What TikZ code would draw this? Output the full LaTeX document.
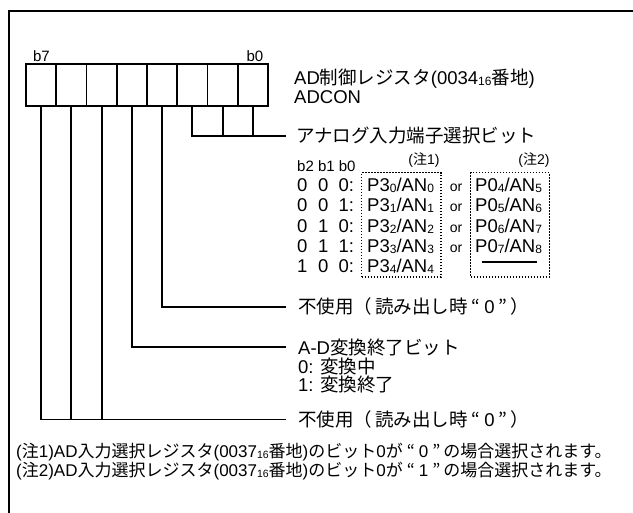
\documentclass[tikz,border=0pt]{standalone}
\usepackage{fontspec}
\setmainfont{Liberation Sans}
\newfontfamily\jpf{Noto Sans CJK JP}
\newcommand\J[1]{{\jpf #1}}
\newcommand\lowsub[2][12]{{\fontsize{#1}{#1}\selectfont\raisebox{-1pt}{#2}}}
\newcommand\qz[1]{\hspace{4pt}\J{“}\hspace{4pt}#1\hspace{4pt}\J{”}\hspace{3pt}}
\tikzset{
  ln/.style={line width=1.8pt},
  frame/.style={line width=1.8pt},
  cell/.style={draw, line width=1.8pt, minimum width=30.25pt, minimum height=42pt, inner sep=0pt, outer sep=0pt},
  txt/.style={anchor=base west, inner sep=0pt, font=\fontsize{18.5}{20}\selectfont},
  sml/.style={anchor=base, inner sep=0pt, font=\fontsize{14}{16}\selectfont},
  bits/.style={anchor=base, inner sep=0pt, font=\fontsize{15}{17}\selectfont},
  notetxt/.style={anchor=base west, inner sep=0pt, font=\fontsize{17}{18}\selectfont},
  dotbox/.style={draw, line width=1.2pt, dash pattern=on 1.4pt off 1.6pt, inner sep=0pt, outer sep=0pt}
}
\begin{document}
\begin{tikzpicture}[x=1pt,y=-1pt]
\useasboundingbox (0,0) rectangle (633,513);
\clip (0,0) rectangle (633,513);
\fill[white] (0,0) rectangle (633,513);
% outer frame (continues past the picture edge)
\draw[frame] (9,10.7) rectangle (660,540);

% register cells, b7 on the left
\foreach \k in {0,...,7}{
  \pgfmathtruncatemacro\bitno{7-\k}
  \node[cell] (c\bitno) at ({26+30.25*(\k+0.5)},85) {};
}
\node[bits] (lb7) at (41.5,62) {b7};
\node[bits] (lb0) at (255,62) {b0};

\node[txt] (treg) at (294,84.5) {AD\J{制御レジスタ}(0034\lowsub{16}\J{番地})};
\node[txt] (tname) at (294,103.5) {ADCON};

% bits 2..0
\coordinate (e0) at (286,136);
\draw[ln] (c2.south) |- (e0);
\draw[ln] (c1.south) -- (c1.south |- e0);
\draw[ln] (c0.south) -- (c0.south |- e0);
\node[txt] (tana) at (296,143) {\J{アナログ入力端子選択ビット}};

\node[bits,anchor=base west] (thead) at (297,171.5) {b2 b1 b0};
\node[sml] (n1) at (424,165) {(\J{注}1)};
\node[sml] (n2) at (534,165) {(\J{注}2)};

\node[dotbox, minimum width=79.3pt, minimum height=104.3pt] (box1) at (401.35,224.85) {};
\node[dotbox, minimum width=78.6pt, minimum height=104.3pt] (box2) at (510,224.85) {};

\node[txt] (r1a) at (297,191.5) {\makebox[21pt][l]{0}\makebox[20.5pt][l]{0}0:};
\node[txt] (r2a) at (297,212) {\makebox[21pt][l]{0}\makebox[20.5pt][l]{0}1:};
\node[txt] (r3a) at (297,232.5) {\makebox[21pt][l]{0}\makebox[20.5pt][l]{1}0:};
\node[txt] (r4a) at (297,252.5) {\makebox[21pt][l]{0}\makebox[20.5pt][l]{1}1:};
\node[txt] (r5a) at (297,272.5) {\makebox[21pt][l]{1}\makebox[20.5pt][l]{0}0:};

\node[txt] (r1b) at (367,191.5) {P3\lowsub{0}/AN\lowsub{0}};
\node[txt] (r2b) at (367,212) {P3\lowsub{1}/AN\lowsub{1}};
\node[txt] (r3b) at (367,232.5) {P3\lowsub{2}/AN\lowsub{2}};
\node[txt] (r4b) at (367,252.5) {P3\lowsub{3}/AN\lowsub{3}};
\node[txt] (r5b) at (367,272.5) {P3\lowsub{4}/AN\lowsub{4}};

\node[sml] (r1o) at (456,191.5) {or};
\node[sml] (r2o) at (456,212) {or};
\node[sml] (r3o) at (456,232.5) {or};
\node[sml] (r4o) at (456,252.5) {or};

\node[txt] (r1c) at (475,191.5) {P0\lowsub{4}/AN\lowsub{5}};
\node[txt] (r2c) at (475,212) {P0\lowsub{5}/AN\lowsub{6}};
\node[txt] (r3c) at (475,232.5) {P0\lowsub{6}/AN\lowsub{7}};
\node[txt] (r4c) at (475,252.5) {P0\lowsub{7}/AN\lowsub{8}};
\coordinate (d1) at (481.7,262);
\coordinate (d2) at (536.7,262);
\draw[line width=1.2pt] (d1) -- (d2);

% bit 3
\coordinate (e3) at (286,306.7);
\draw[ln] (c3.south) |- (e3);
\node[txt] (t3) at (298,313.5) {\J{不使用（}\hspace{3pt}\J{読み出し時}\qz{0}\J{）}};

% bit 4
\coordinate (e4) at (286,346.7);
\draw[ln] (c4.south) |- (e4);
\node[txt] (t4) at (298,354.5) {A-D\J{変換終了ビット}};
\node[txt] (t4a) at (298,373.5) {0: \J{変換中}};
\node[txt] (t4b) at (298,392) {1: \J{変換終了}};

% bits 5..7
\coordinate (e5) at (286,419.5);
\draw[ln] (c7.south) |- (e5);
\draw[ln] (c6.south) -- (c6.south |- e5);
\draw[ln] (c5.south) -- (c5.south |- e5);
\node[txt] (t5) at (298,426.5) {\J{不使用（}\hspace{3pt}\J{読み出し時}\qz{0}\J{）}};

% notes
\node[notetxt] (note1) at (16,458) {(\J{注}1)AD\J{入力選択レジスタ}(0037\lowsub[10.5]{16}\J{番地})\J{のビット}0\J{が}\qz{0}\J{の場合選択されます。}};
\node[notetxt] (note2) at (16,477) {(\J{注}2)AD\J{入力選択レジスタ}(0037\lowsub[10.5]{16}\J{番地})\J{のビット}0\J{が}\qz{1}\J{の場合選択されます。}};
\end{tikzpicture}
\end{document}
